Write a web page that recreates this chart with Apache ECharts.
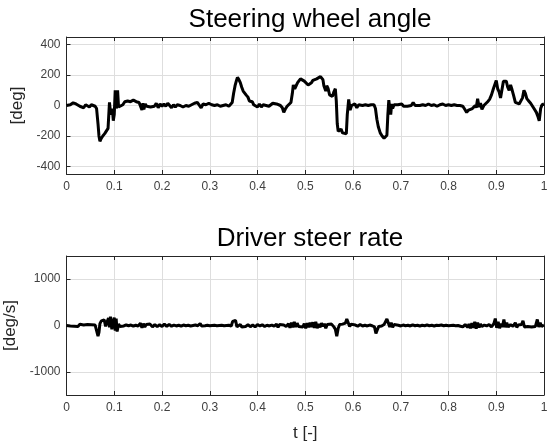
<!DOCTYPE html>
<html><head><meta charset="utf-8">
<script src="https://cdn.jsdelivr.net/npm/echarts@6/dist/echarts.min.js"></script>
<style>html,body{margin:0;padding:0;background:#fff}#c{width:554px;height:445px}</style>
</head><body><div id="c"></div>
<script>
var titles = ['Steering wheel angle', 'Driver steer rate'];
var yNames = ['[deg]', '[deg/s]'];
var xName = 't [-]';
var xTicks = [0,0.1,0.2,0.3,0.4,0.5,0.6,0.7,0.8,0.9,1];
var xTickLabels = ['0','0.1','0.2','0.3','0.4','0.5','0.6','0.7','0.8','0.9','1'];
var angleTicks = [-400,-200,0,200,400];
var rateTicks = [-1000,0,1000];

var steeringAngle = [[0,0],[0.008,5],[0.014,18],[0.02,10],[0.024,15],[0.028,-5],[0.032,5],[0.036,-15],[0.04,5],[0.044,0],[0.048,-10],[0.052,5],[0.056,0],[0.06,-5],[0.063,-20],[0.066,-120],[0.068,-200],[0.07,-235],[0.073,-215],[0.076,-200],[0.08,-185],[0.084,-175],[0.087,-150],[0.09,20],[0.092,-40],[0.094,-60],[0.096,-20],[0.098,-100],[0.1,-60],[0.102,100],[0.104,90],[0.105,-20],[0.107,100],[0.109,-10],[0.113,-10],[0.118,5],[0.122,25],[0.128,30],[0.134,25],[0.14,35],[0.146,25],[0.152,20],[0.156,10],[0.158,-30],[0.16,15],[0.162,-25],[0.165,10],[0.168,-5],[0.172,5],[0.176,-10],[0.18,0],[0.184,-5],[0.188,15],[0.192,-15],[0.196,10],[0.2,-5],[0.204,10],[0.208,-5],[0.212,15],[0.216,10],[0.22,-15],[0.224,5],[0.228,-10],[0.232,5],[0.238,0],[0.244,-10],[0.25,0],[0.256,-5],[0.262,5],[0.268,15],[0.274,20],[0.278,10],[0.282,-15],[0.286,10],[0.292,5],[0.298,15],[0.304,5],[0.31,0],[0.316,5],[0.322,-5],[0.328,0],[0.334,5],[0.34,-5],[0.344,-10],[0.347,20],[0.35,80],[0.353,130],[0.356,165],[0.358,185],[0.361,170],[0.364,150],[0.367,120],[0.37,95],[0.373,100],[0.376,70],[0.38,55],[0.383,30],[0.386,20],[0.389,25],[0.392,5],[0.396,15],[0.4,-10],[0.404,10],[0.408,-10],[0.412,5],[0.418,0],[0.424,-5],[0.428,5],[0.432,15],[0.436,20],[0.44,10],[0.444,15],[0.448,0],[0.452,-15],[0.455,-45],[0.458,-25],[0.462,-5],[0.466,0],[0.47,20],[0.473,80],[0.475,135],[0.478,110],[0.481,120],[0.484,150],[0.487,140],[0.49,175],[0.494,165],[0.498,160],[0.502,150],[0.506,135],[0.51,125],[0.513,150],[0.516,165],[0.52,160],[0.524,175],[0.528,180],[0.532,190],[0.535,198],[0.537,170],[0.539,130],[0.541,140],[0.543,95],[0.545,130],[0.548,110],[0.551,70],[0.554,80],[0.557,60],[0.56,90],[0.563,110],[0.565,30],[0.567,-120],[0.569,-170],[0.572,-160],[0.575,-155],[0.578,-180],[0.582,-190],[0.586,-185],[0.588,-60],[0.591,40],[0.594,-30],[0.597,0],[0.6,-10],[0.604,10],[0.608,-15],[0.612,5],[0.616,-5],[0.62,0],[0.626,5],[0.632,0],[0.638,5],[0.644,5],[0.647,-20],[0.65,-90],[0.653,-140],[0.657,-180],[0.661,-200],[0.665,-215],[0.668,-220],[0.671,-195],[0.673,-60],[0.675,35],[0.677,-20],[0.679,-60],[0.681,10],[0.683,-20],[0.686,5],[0.69,-5],[0.694,5],[0.698,0],[0.702,10],[0.706,-5],[0.71,5],[0.714,-5],[0.718,-10],[0.722,0],[0.726,20],[0.73,0],[0.734,-5],[0.74,0],[0.746,5],[0.752,0],[0.758,10],[0.764,0],[0.77,5],[0.776,-5],[0.782,5],[0.788,10],[0.794,0],[0.8,5],[0.806,0],[0.812,5],[0.818,0],[0.824,0],[0.83,-5],[0.834,-25],[0.838,-45],[0.842,-30],[0.846,-40],[0.85,-20],[0.853,-30],[0.856,0],[0.858,-15],[0.861,45],[0.864,-10],[0.867,15],[0.87,-25],[0.874,0],[0.878,10],[0.882,25],[0.886,40],[0.89,70],[0.894,110],[0.897,120],[0.9,165],[0.903,110],[0.906,90],[0.909,50],[0.912,40],[0.915,160],[0.918,150],[0.921,160],[0.924,120],[0.927,100],[0.93,135],[0.933,105],[0.936,70],[0.94,20],[0.944,10],[0.948,10],[0.952,15],[0.955,50],[0.958,100],[0.961,80],[0.964,45],[0.968,30],[0.972,15],[0.976,-5],[0.98,-25],[0.984,-45],[0.987,-70],[0.99,-100],[0.993,-20],[0.996,5],[1.0,10]];

var steerRate = [[0,0],[0.004,15],[0.008,-10],[0.012,20],[0.016,-15],[0.02,10],[0.024,-20],[0.028,25],[0.032,-15],[0.036,10],[0.04,-25],[0.044,20],[0.048,-10],[0.052,15],[0.056,-20],[0.06,10],[0.063,-30],[0.066,-230],[0.068,-150],[0.07,40],[0.073,100],[0.076,60],[0.079,120],[0.082,-20],[0.085,80],[0.088,160],[0.09,-40],[0.092,190],[0.095,-80],[0.097,60],[0.1,170],[0.102,-110],[0.104,150],[0.106,-130],[0.109,30],[0.112,-20],[0.116,10],[0.12,-10],[0.125,15],[0.13,-5],[0.135,10],[0.14,-15],[0.145,5],[0.15,-10],[0.155,50],[0.158,-50],[0.161,40],[0.164,-30],[0.167,20],[0.17,-10],[0.175,30],[0.18,-30],[0.185,20],[0.19,-25],[0.195,15],[0.2,-20],[0.205,30],[0.21,-20],[0.215,25],[0.22,-15],[0.225,10],[0.23,-10],[0.235,5],[0.24,-15],[0.245,10],[0.25,-5],[0.255,5],[0.26,-10],[0.265,0],[0.27,10],[0.275,-5],[0.28,40],[0.283,-10],[0.287,5],[0.29,-5],[0.295,5],[0.3,-5],[0.305,0],[0.31,5],[0.315,-5],[0.32,0],[0.325,5],[0.33,-5],[0.335,0],[0.34,5],[0.345,-10],[0.348,90],[0.351,100],[0.354,110],[0.357,-30],[0.36,-40],[0.364,20],[0.367,-30],[0.37,10],[0.375,-20],[0.38,15],[0.385,-25],[0.39,10],[0.395,-30],[0.4,20],[0.405,-10],[0.41,15],[0.415,-20],[0.42,5],[0.425,-10],[0.43,10],[0.435,-15],[0.44,30],[0.443,-40],[0.446,20],[0.45,-10],[0.455,10],[0.46,-20],[0.465,40],[0.468,-50],[0.471,60],[0.474,-40],[0.477,80],[0.48,-30],[0.483,50],[0.486,-20],[0.49,10],[0.495,-30],[0.498,40],[0.501,-60],[0.504,50],[0.507,-40],[0.51,60],[0.513,-30],[0.516,70],[0.519,-50],[0.522,80],[0.525,-60],[0.528,30],[0.531,-40],[0.534,50],[0.537,-20],[0.54,40],[0.543,-60],[0.546,20],[0.55,-20],[0.555,30],[0.56,-30],[0.563,-80],[0.566,-230],[0.569,-60],[0.572,20],[0.575,-10],[0.578,30],[0.581,-10],[0.584,50],[0.587,140],[0.59,110],[0.593,-20],[0.596,30],[0.6,-10],[0.605,10],[0.61,-15],[0.615,20],[0.62,-10],[0.625,5],[0.63,-10],[0.635,10],[0.64,-5],[0.645,-30],[0.648,-170],[0.651,-90],[0.654,-20],[0.657,10],[0.66,-10],[0.665,20],[0.668,50],[0.671,140],[0.674,110],[0.677,-30],[0.68,60],[0.683,-40],[0.686,20],[0.69,-10],[0.695,5],[0.7,-10],[0.705,10],[0.71,-5],[0.715,5],[0.72,-10],[0.725,15],[0.73,-5],[0.735,5],[0.74,-10],[0.745,5],[0.75,-5],[0.755,10],[0.76,-5],[0.765,5],[0.77,-10],[0.775,5],[0.78,0],[0.785,10],[0.79,-5],[0.795,5],[0.8,-5],[0.805,0],[0.81,5],[0.815,-5],[0.82,0],[0.825,-15],[0.83,-30],[0.835,20],[0.84,-40],[0.843,30],[0.846,-60],[0.849,50],[0.852,-50],[0.855,80],[0.858,-70],[0.861,60],[0.864,-40],[0.867,30],[0.87,-20],[0.875,10],[0.88,-10],[0.885,20],[0.89,-30],[0.895,40],[0.898,150],[0.901,-50],[0.904,80],[0.907,-60],[0.91,40],[0.913,-30],[0.916,130],[0.919,-40],[0.922,60],[0.925,-30],[0.93,20],[0.935,-20],[0.94,60],[0.943,-40],[0.946,10],[0.95,-20],[0.953,20],[0.956,100],[0.959,-30],[0.962,10],[0.966,-20],[0.97,20],[0.974,-30],[0.978,10],[0.982,-20],[0.986,130],[0.989,-30],[0.992,60],[0.995,-20],[1.0,10]];

var FONT = 'Liberation Sans';
var AX = '#262626';
var GRIDC = '#dedede';
function xLabel(v){ var i = xTicks.findIndex(function(t){return Math.abs(t-v)<1e-9;}); return i>=0 ? xTickLabels[i] : ''; }
function yLabel(v){ return String(v); }

function xAx(gi, pos, show, name){
  return {type:'value', gridIndex:gi, position:pos, min:0, max:1, interval:0.1,
    name: name||'', nameLocation:'middle', nameGap:30, nameTextStyle:{fontFamily:FONT,fontSize:17,color:AX},
    axisLine:{show:true,onZero:false,lineStyle:{color:AX,width:1}},
    axisTick:{show:true,inside:true,length:4,lineStyle:{color:AX}},
    axisLabel:{show:show,formatter:xLabel,fontFamily:FONT,fontSize:12,color:'#404040',margin:7},
    splitLine:{show:pos==='bottom',lineStyle:{color:GRIDC,width:1}}};
}
function yAx(gi, pos, show, mn, mx, ticks, name, gap){
  return {type:'value', gridIndex:gi, position:pos, min:mn, max:mx,
    name: name||'', nameLocation:'middle', nameGap:gap||40, nameRotate:90, nameTextStyle:{fontFamily:FONT,fontSize:17,color:AX},
    axisLine:{show:true,onZero:false,lineStyle:{color:AX,width:1}},
    axisTick:{show:true,inside:true,length:4,lineStyle:{color:AX},customValues:ticks},
    axisLabel:{show:show,customValues:ticks,formatter:yLabel,fontFamily:FONT,fontSize:12,color:'#404040',margin:6},
    splitLine:{show:pos==='left',lineStyle:{color:GRIDC,width:1}}};
}

var chart = echarts.init(document.getElementById('c'), null, {renderer:'canvas'});
chart.setOption({
  animation:false,
  backgroundColor:'#fff',
  title:[
    {text:titles[0], left:305, top:2, textAlign:'center', textStyle:{fontFamily:FONT,fontSize:26,fontWeight:'normal',color:'#000'}},
    {text:titles[1], left:305, top:221, textAlign:'center', textStyle:{fontFamily:FONT,fontSize:26,fontWeight:'normal',color:'#000'}}
  ],
  grid:[
    {left:66.5, right:10, top:37, height:137, containLabel:false, outerBoundsMode:'none'},
    {left:66.5, right:10, top:256, height:139, containLabel:false, outerBoundsMode:'none'}
  ],
  xAxis:[ xAx(0,'bottom',true), xAx(0,'top',false), xAx(1,'bottom',true,xName), xAx(1,'top',false) ],
  yAxis:[ yAx(0,'left',true,-450,450,angleTicks,yNames[0],35), yAx(0,'right',false,-450,450,angleTicks),
          yAx(1,'left',true,-1500,1500,rateTicks,yNames[1],39), yAx(1,'right',false,-1500,1500,rateTicks) ],
  series:[
    {type:'line', xAxisIndex:0, yAxisIndex:0, data:steeringAngle, showSymbol:false, symbol:'none', lineStyle:{color:'#000',width:3}, z:5},
    {type:'line', xAxisIndex:2, yAxisIndex:2, data:steerRate, showSymbol:false, symbol:'none', lineStyle:{color:'#000',width:3}, z:5}
  ]
});
</script></body></html>
